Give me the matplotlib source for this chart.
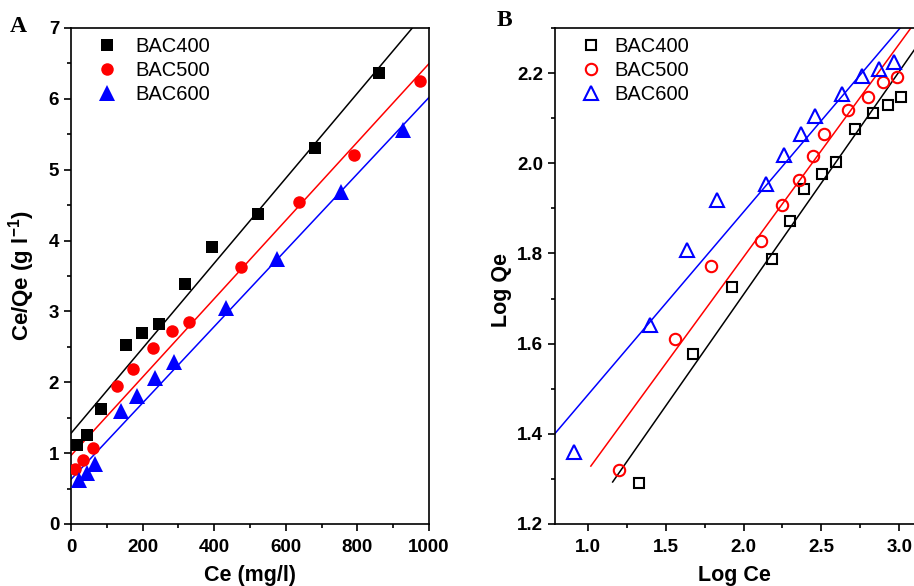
import numpy as np
import matplotlib
matplotlib.use("Agg")
import matplotlib.pyplot as plt
from matplotlib.ticker import MultipleLocator

plt.rcParams['font.family'] = ['Liberation Sans', 'DejaVu Sans']
plt.rcParams['mathtext.fontset'] = 'custom'
plt.rcParams['mathtext.rm'] = 'Liberation Sans'
plt.rcParams['mathtext.bf'] = 'Liberation Sans:bold'

# ---- Langmuir linear form: Ce/Qe vs Ce ----
ce_400 = [18, 46, 84, 153, 199, 247, 318, 394, 521, 682, 860]
cq_400 = [1.11, 1.26, 1.63, 2.52, 2.70, 2.82, 3.39, 3.91, 4.38, 5.30, 6.37]
ce_500 = [11, 33, 61, 129, 174, 230, 283, 331, 474, 638, 790, 975]
cq_500 = [0.78, 0.91, 1.07, 1.95, 2.19, 2.49, 2.73, 2.85, 3.63, 4.55, 5.21, 6.25]
ce_600 = [23, 46, 67, 140, 183, 234, 289, 432, 576, 754, 928]
cq_600 = [0.62, 0.72, 0.85, 1.59, 1.80, 2.06, 2.28, 3.05, 3.74, 4.68, 5.56]
lang_intercept = [1.28, 0.967, 0.63]
lang_slope = [0.0060, 0.00553, 0.00539]

# ---- Freundlich linear form: log Qe vs log Ce ----
lce_400 = [1.326, 1.675, 1.928, 2.183, 2.297, 2.389, 2.505, 2.593, 2.713, 2.829, 2.929, 3.009]
lqe_400 = [1.290, 1.578, 1.726, 1.788, 1.873, 1.943, 1.976, 2.003, 2.077, 2.111, 2.129, 2.147]
lce_500 = [1.200, 1.558, 1.794, 2.111, 2.244, 2.357, 2.447, 2.516, 2.672, 2.801, 2.893, 2.987]
lqe_500 = [1.320, 1.610, 1.772, 1.827, 1.907, 1.964, 2.017, 2.066, 2.118, 2.146, 2.181, 2.192]
lce_600 = [0.910, 1.397, 1.639, 1.832, 2.147, 2.260, 2.368, 2.457, 2.633, 2.758, 2.871, 2.968]
lqe_600 = [1.360, 1.641, 1.808, 1.918, 1.954, 2.018, 2.065, 2.105, 2.153, 2.193, 2.208, 2.225]
freu_intercept = [0.719, 0.846, 1.080]
freu_slope = [0.495, 0.473, 0.406]
freu_start = [1.16, 1.02, 0.79]

labels = ['BAC400', 'BAC500', 'BAC600']
colors = ['black', 'red', 'blue']
markers = ['s', 'o', '^']

W, H = 914, 586
fig = plt.figure(figsize=(W / 100, H / 100), dpi=100)

axA = fig.add_axes([71 / W, (H - 524) / H, (429 - 71) / W, (524 - 28) / H])
axB = fig.add_axes([555 / W, (H - 524) / H, (W - 555) / W, (524 - 28) / H])

TICK_FS = 13.5
LABEL_FS = 15.5

# Panel A
xs_A = [ce_400, ce_500, ce_600]
ys_A = [cq_400, cq_500, cq_600]
msA = [8.2, 9, 11]
for xs, ys, a, b, c, m, ms, lab in zip(xs_A, ys_A, lang_intercept, lang_slope,
                                       colors, markers, msA, labels):
    axA.plot(xs, ys, linestyle='none', marker=m, color=c, markersize=ms,
             markeredgewidth=0, label=lab, zorder=3)
    xl = np.array([0, 1000])
    axA.plot(xl, a + b * xl, color=c, linewidth=1.1, zorder=2)

axA.set_xlim(0, 1000)
axA.set_ylim(0, 7)
axA.xaxis.set_major_locator(MultipleLocator(200))
axA.xaxis.set_minor_locator(MultipleLocator(100))
axA.yaxis.set_major_locator(MultipleLocator(1))
axA.yaxis.set_minor_locator(MultipleLocator(0.5))
axA.set_xlabel('Ce (mg/l)', fontsize=LABEL_FS, fontweight='bold', labelpad=6.5)
axA.set_ylabel(r'Ce/Qe (g l$^{\mathbf{-1}}$)', fontsize=16, fontweight='bold')
axA.yaxis.set_label_coords((37 - 71) / 358, 0.50)
axA.legend(loc='upper left', bbox_to_anchor=(0.073, 0.981), frameon=False,
           fontsize=14.5, handlelength=1.0, handletextpad=0.9,
           labelspacing=0.25, borderpad=0, borderaxespad=0, numpoints=1)

# Panel B
xs_B = [lce_400, lce_500, lce_600]
ys_B = [lqe_400, lqe_500, lqe_600]
msB = [6.5, 8.2, 9.5]
for xs, ys, a, b, x0, c, m, ms, lab in zip(xs_B, ys_B, freu_intercept, freu_slope,
                                           freu_start, colors, markers, msB, labels):
    axB.plot(xs, ys, linestyle='none', marker=m, color=c, markersize=ms,
             markerfacecolor='none', markeredgewidth=1.5, label=lab, zorder=3)
    xl = np.array([x0, 3.2])
    axB.plot(xl, a + b * xl, color=c, linewidth=1.1, zorder=2)

axB.set_xlim(0.79, 3.094)
axB.set_ylim(1.2, 2.3)
axB.xaxis.set_major_locator(MultipleLocator(0.5))
axB.xaxis.set_minor_locator(MultipleLocator(0.25))
axB.yaxis.set_major_locator(MultipleLocator(0.2))
axB.yaxis.set_minor_locator(MultipleLocator(0.1))
axB.spines['right'].set_visible(False)
axB.set_xlabel('Log Ce', fontsize=LABEL_FS, fontweight='bold', labelpad=6.5)
axB.set_ylabel('Log Qe', fontsize=LABEL_FS, fontweight='bold')
axB.yaxis.set_label_coords((512 - 555) / 359, (524 - 290) / 496)
axB.legend(loc='upper left', bbox_to_anchor=(26 / 359, 0.981), frameon=False,
           fontsize=14.5, handlelength=1.0, handletextpad=0.65,
           labelspacing=0.25, borderpad=0, borderaxespad=0, numpoints=1)

for ax in (axA, axB):
    for s in ax.spines.values():
        s.set_linewidth(1.2)
    ax.tick_params(which='both', direction='out', top=False, right=False,
                   width=1.2)
    ax.tick_params(which='major', length=5, pad=3.5)
    ax.tick_params(axis='x', which='major', pad=6)
    ax.tick_params(which='minor', length=3)
    for t in ax.get_xticklabels() + ax.get_yticklabels():
        t.set_fontsize(TICK_FS)
        t.set_fontweight('bold')

fig.text(10 / W, (H - 27) / H, 'A', fontsize=17, fontweight='bold',
         family=['Liberation Serif', 'DejaVu Serif'], ha='left', va='center')
fig.text(497 / W, (H - 21) / H, 'B', fontsize=17, fontweight='bold',
         family=['Liberation Serif', 'DejaVu Serif'], ha='left', va='center')

fig.savefig('out.png', dpi=100)
